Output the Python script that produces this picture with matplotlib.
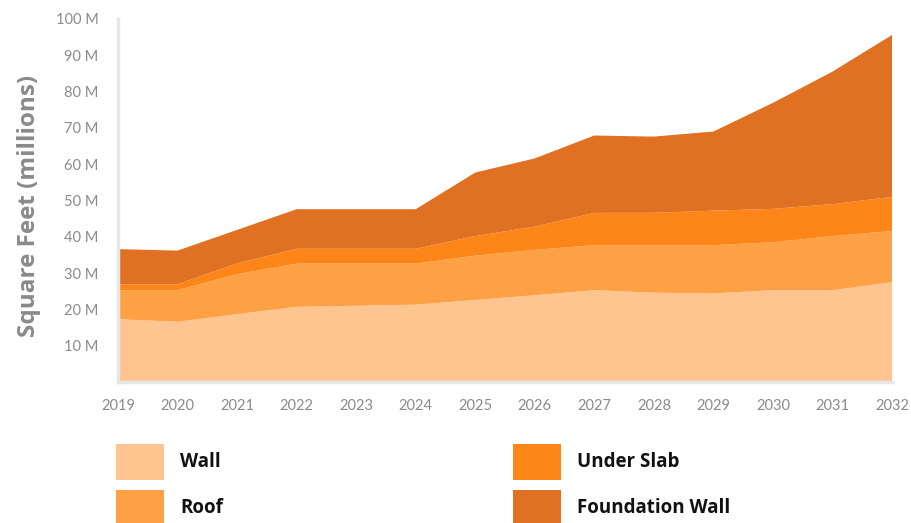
import matplotlib
matplotlib.use("Agg")
import matplotlib.pyplot as plt
from matplotlib.patches import Rectangle
import numpy as np

years = [2019, 2020, 2021, 2022, 2023, 2024, 2025, 2026, 2027, 2028, 2029, 2030, 2031, 2032]
wall = [17.3, 16.6, 18.7, 20.7, 21.0, 21.3, 22.6, 23.9, 25.3, 24.6, 24.4, 25.3, 25.3, 27.5]
roof = [8.0, 8.7, 11.0, 11.9, 11.6, 11.3, 12.2, 12.5, 12.4, 13.1, 13.3, 13.2, 14.9, 14.1]
under_slab = [1.6, 1.6, 3.0, 4.1, 4.1, 4.1, 5.4, 6.4, 8.9, 8.9, 9.5, 9.2, 8.8, 9.4]
foundation_wall = [9.7, 9.3, 9.2, 10.9, 10.9, 10.9, 17.5, 18.8, 21.3, 21.0, 21.8, 29.2, 36.5, 44.6]

series_names = ["Wall", "Roof", "Under Slab", "Foundation Wall"]
series_colors = ["#FEC591", "#FEA044", "#FE8619", "#E07022"]
y_ticks = [10, 20, 30, 40, 50, 60, 70, 80, 90, 100]
y_tick_labels = [f"{v} M" for v in y_ticks]

W, H = 911, 523
fig = plt.figure(figsize=(W / 100, H / 100), dpi=100)
ax = fig.add_axes([118 / W, (H - 382) / H, (892 - 118) / W, (382 - 19) / H])

ax.stackplot(years, wall, roof, under_slab, foundation_wall,
             colors=series_colors, linewidth=0)

ax.set_xlim(years[0], years[-1])
ax.set_ylim(0, 100)
ax.set_xticks(years)
ax.set_xticklabels([str(y) for y in years], fontsize=10.5, color="#8a8a8a",
                   family="Lato")
ax.set_yticks(y_ticks)
ax.set_yticklabels(y_tick_labels, fontsize=10.5, color="#8a8a8a", family="Lato")
ax.tick_params(axis="both", length=0)
ax.tick_params(axis="x", pad=12)
ax.tick_params(axis="y", pad=14)

for side in ["top", "right"]:
    ax.spines[side].set_visible(False)
for side in ["left", "bottom"]:
    ax.spines[side].set_color("#e6e6e6")
    ax.spines[side].set_linewidth(2.5)

ax.set_ylabel("Square Feet (millions)", fontsize=17.5, fontweight="bold",
              color="#8a8a8a", family="Open Sans")
ax.yaxis.set_label_coords(-0.1, 0.485)

# legend: two columns of colour swatches with bold labels
legend_x = [116, 513]
legend_y = [462, 508]
for i, (name, color) in enumerate(zip(series_names, series_colors)):
    col, row = divmod(i, 2)
    x0 = legend_x[col]
    yc = legend_y[row]
    fig.add_artist(Rectangle((x0 / W, (H - yc - 18) / H), 48 / W, 36 / H,
                             transform=fig.transFigure, color=color, lw=0))
    fig.text((x0 + 64) / W, (H - yc) / H, name, fontsize=13.5, fontweight="bold",
             color="#111111", family="Open Sans", va="center", ha="left")

fig.savefig("out.png", dpi=100)
